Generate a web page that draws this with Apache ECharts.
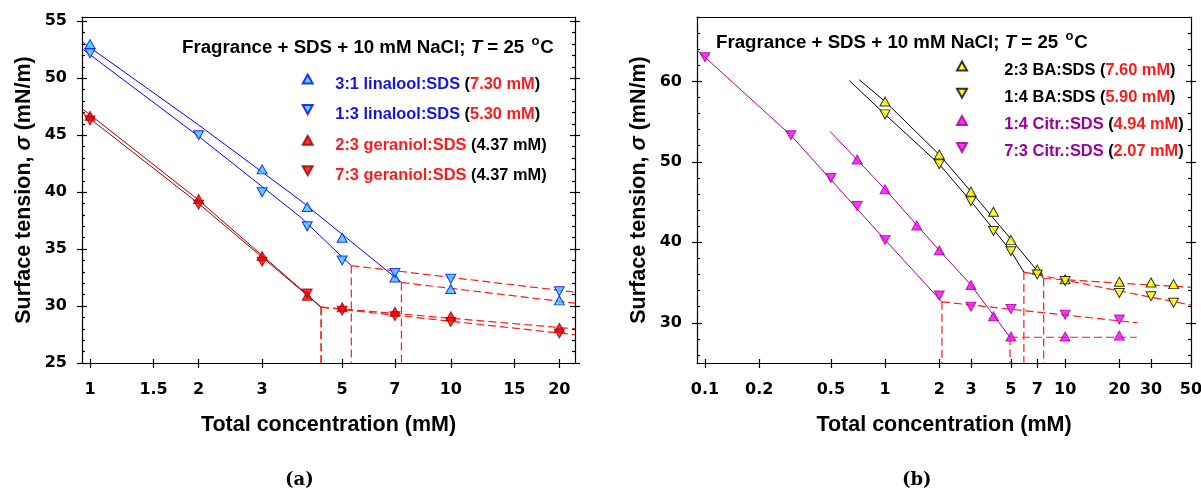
<!DOCTYPE html>
<html><head><meta charset="utf-8">
<script src="https://cdn.jsdelivr.net/npm/echarts@6/dist/echarts.min.js"></script>
<style>html,body{margin:0;padding:0;background:#fff}#c{width:1201px;height:490px}</style>
</head><body><div id="c"></div>
<script>
// ---------------- data: panel (a) ----------------
const xTicksA = [1, 1.5, 2, 3, 5, 7, 10, 15, 20];
const yTicksA = [25, 30, 35, 40, 45, 50, 55];
const xRangeA = [0.95, 22.1];
const yRangeA = [25, 55.38];
const namesA = ['3:1 linalool:SDS', '1:3 linalool:SDS', '2:3 geraniol:SDS', '7:3 geraniol:SDS'];
const cmcA = [7.30, 5.30, 4.37, 4.37];
const cmcSigmaA = [32.07, 33.55, 29.9, 29.9];
const lin31 = [[1, 53.0], [3, 42.0], [4, 38.7], [5, 36.0], [7, 32.5], [10, 31.5], [20, 30.5]];
const lin13 = [[1, 52.2], [2, 45.0], [3, 40.0], [4, 37.0], [5, 34.0], [7, 32.9], [10, 32.4], [20, 31.3]];
const ger23 = [[1, 46.7], [2, 39.4], [3, 34.4], [4, 30.9], [5, 29.9], [7, 29.5], [10, 29.1], [20, 28.1]];
const ger73 = [[1, 46.3], [2, 38.9], [3, 33.9], [4, 31.1], [5, 29.6], [7, 29.1], [10, 28.6], [20, 27.6]];
const fitLin31 = [[0.95, 53.2], [2, 45.9], [3.82, 39.3], [7.3, 32.07]];
const fitLin13 = [[0.95, 52.6], [2, 44.9], [3.82, 37.85], [5.3, 33.55]];
const fitGer23 = [[0.95, 47.35], [2, 39.3], [4, 31.0], [4.37, 29.9]];
const fitGer73 = [[0.95, 47.0], [2, 39.0], [4, 30.95], [4.37, 29.9]];
const postLin31 = [[7.3, 32.07], [22.1, 30.26]];
const postLin13 = [[5.3, 33.55], [22.1, 31.22]];
const postGer23 = [[4.37, 29.9], [22.1, 28.0]];
const postGer73 = [[4.37, 29.9], [22.1, 27.48]];

// ---------------- data: panel (b) ----------------
const xTicksB = [0.1, 0.2, 0.5, 1, 2, 3, 5, 7, 10, 20, 30, 50];
const yTicksB = [30, 40, 50, 60];
const xRangeB = [0.0903, 50];
const yRangeB = [25, 68];
const namesB = ['2:3 BA:SDS', '1:4 BA:SDS', '1:4 Citr.:SDS', '7:3 Citr.:SDS'];
const cmcB = [7.60, 5.90, 4.94, 2.07];
const cmcSigmaB = [35.5, 36.3, 28.2, 32.6];
const ba23 = [[1, 57.5], [2, 50.9], [3, 46.3], [4, 43.8], [5, 40.3], [7, 36.6], [10, 35.4], [20, 35.1], [30, 35.0], [40, 34.8]];
const ba14 = [[1, 55.9], [2, 49.7], [3, 45.1], [4, 41.4], [5, 38.9], [7, 36.0], [10, 35.2], [20, 33.7], [30, 33.3], [40, 32.5]];
const ci14 = [[0.7, 50.3], [1, 46.6], [1.5, 42.1], [2, 39.0], [3, 34.7], [4, 30.8], [5, 28.3], [10, 28.3], [20, 28.4]];
const ci73 = [[0.1, 63.0], [0.3, 53.3], [0.5, 48.0], [0.7, 44.5], [1, 40.3], [2, 33.4], [3, 32.0], [5, 31.7], [10, 31.0], [20, 30.4]];
const fitBa23 = [[0.719, 60.2], [1, 57.5], [2, 50.9], [3, 46.3], [5, 40.4], [7.6, 35.5]];
const fitBa14 = [[0.633, 60.1], [1, 55.9], [2, 49.7], [3, 45.1], [5, 38.9], [5.9, 36.3]];
const fitCi14 = [[0.494, 53.8], [1, 46.6], [2, 39.0], [3, 34.7], [4.94, 28.2]];
const fitCi73 = [[0.0903, 63.9], [0.3, 53.3], [1, 40.3], [2.07, 32.6]];
const postBa23 = [[7.6, 35.5], [50, 34.4]];
const postBa14 = [[5.9, 36.3], [50, 32.2]];
const postCi14 = [[4.94, 28.2], [25, 28.2]];
const postCi73 = [[2.07, 32.6], [25.2, 30.0]];

// ---------------- styling / building ----------------
const FONT = "'Liberation Sans', Arial, sans-serif";
const TFONT = "'DejaVu Sans', sans-serif";
const UP = 'path://M5,0L10,9L0,9Z';
const DOWN = 'path://M0,0L10,0L5,9Z';
const AX = {color: '#000', width: 1.2};
const RED = '#FF1A1A';
const lg = v => Math.log10(v);
const toLog = arr => arr.map(p => [lg(p[0]), p[1]]);
const minorList = (range, step, majors) => {
  const out = [];
  for (let v = Math.ceil(range[0] / step) * step; v <= range[1] + 1e-9; v += step) {
    if (!majors.includes(v)) out.push(v);
  }
  return out;
};
const fmtLog = v => String(+Math.pow(10, v).toPrecision(6));

const nameStyle = {fontSize: 21.5, fontWeight: 'bold', fontFamily: FONT, color: '#000',
  rich: {i: {fontSize: 21.5, fontWeight: 'bold', fontStyle: 'italic', fontFamily: FONT, color: '#000'}}};
const tickLabel = {fontSize: 16, fontWeight: 'bold', fontFamily: TFONT, color: '#000'};

function xAxesFor(gi, range, ticks) {
  const lv = ticks.map(lg);
  const base = {type: 'value', gridIndex: gi, min: lg(range[0]), max: lg(range[1]), splitLine: {show: false},
    axisLine: {show: false, onZero: false}, axisTick: {show: false}, axisLabel: {show: false}};
  return [
    Object.assign({}, base, {position: 'bottom',
      axisLine: {show: true, onZero: false, lineStyle: AX},
      axisTick: {show: true, inside: false, length: 5, customValues: lv, lineStyle: AX},
      axisLabel: Object.assign({show: true, customValues: lv, formatter: fmtLog, margin: 19}, tickLabel),
      name: 'Total concentration (mM)', nameLocation: 'middle', nameGap: 51, nameTextStyle: nameStyle}),
    Object.assign({}, base, {position: 'bottom',
      axisTick: {show: true, inside: true, length: 4, customValues: lv, lineStyle: AX}}),
    Object.assign({}, base, {position: 'top', axisLine: {show: true, onZero: false, lineStyle: AX}})
  ];
}
function yAxesFor(gi, range, majors, minors, margin) {
  const base = {type: 'value', gridIndex: gi, min: range[0], max: range[1], splitLine: {show: false},
    axisLine: {show: false, onZero: false}, axisTick: {show: false}, axisLabel: {show: false}};
  const inner = (pos, vals, len) => Object.assign({}, base, {position: pos,
    axisTick: {show: true, inside: true, length: len, customValues: vals, lineStyle: AX}});
  return [
    Object.assign({}, base, {position: 'left',
      axisLine: {show: true, onZero: false, lineStyle: AX},
      axisTick: {show: true, inside: false, length: 5, customValues: majors, lineStyle: AX},
      axisLabel: Object.assign({show: true, customValues: majors, margin: margin}, tickLabel),
      name: 'Surface tension, {i|σ} (mN/m)', nameLocation: 'middle', nameGap: 47, nameRotate: 90,
      nameTextStyle: nameStyle}),
    inner('left', majors, 5),
    inner('left', minors, 3),
    Object.assign({}, base, {position: 'right',
      axisLine: {show: true, onZero: false, lineStyle: AX},
      axisTick: {show: true, inside: false, length: 5, customValues: majors, lineStyle: AX}}),
    inner('right', majors, 5),
    inner('right', minors, 3)
  ];
}
function scatter(name, data, symbol, fill, border, xi, yi) {
  return {type: 'scatter', name: name, data: toLog(data), symbol: symbol, symbolSize: [10, 9],
    xAxisIndex: xi, yAxisIndex: yi, z: 5, silent: true,
    itemStyle: {color: fill, borderColor: border, borderWidth: 1}};
}
function curve(data, color, dashed, xi, yi) {
  return {type: 'line', data: toLog(data), symbol: 'none', showSymbol: false, xAxisIndex: xi, yAxisIndex: yi,
    z: 2, silent: true, smooth: false,
    lineStyle: {color: color, width: dashed ? 1.2 : 1, type: dashed ? [8, 4] : 'solid'}};
}
function verticals(cmcs, sigmas, yMin, xi, yi) {
  return cmcs.map((c, i) => curve([[c, sigmas[i]], [c, yMin]], RED, true, xi, yi));
}
function legendFor(names, cmcs, nameCls, valCls, icons, left, top, gap, fs, lh, padTop, padLeft) {
  const st = c => ({color: c, fontSize: fs, fontWeight: 'bold', fontFamily: FONT, lineHeight: lh});
  return {
    orient: 'vertical', left: left, top: top, padding: 0, itemGap: gap, itemWidth: 10, itemHeight: 9,
    selectedMode: false,
    data: names.map((n, i) => ({name: n, icon: icons[i]})),
    formatter: n => {
      const i = names.indexOf(n);
      return '{' + nameCls[i] + '|' + n + '}{k| (}{' + valCls[i] + '|' + cmcs[i].toFixed(2) + ' mM}{k|)}';
    },
    textStyle: {padding: [padTop, 0, 0, padLeft], fontSize: fs, fontWeight: 'bold', fontFamily: FONT, lineHeight: lh,
      rich: {b: st('#1414E6'), r: st(RED), k: st('#000'), p: st('#990099')}}
  };
}
const titleStyle = {fontSize: 18.7, fontWeight: 'bold', fontFamily: FONT, color: '#000', lineHeight: 22,
  rich: {i: {fontSize: 18.7, fontWeight: 'bold', fontStyle: 'italic', fontFamily: FONT, color: '#000', lineHeight: 22},
         s: {fontSize: 13, fontWeight: 'bold', fontFamily: FONT, color: '#000', padding: [0, 1, 13, 2]}}};
const TITLE = 'Fragrance + SDS + 10 mM NaCl; {i|T} = 25 {s|o}C';
const panelLabel = {fontSize: 18, fontWeight: 'bold', fontFamily: "'DejaVu Serif', serif", color: '#000'};

const series = [
  curve(fitLin31, '#0000FF', false, 0, 0), curve(fitLin13, '#0000FF', false, 0, 0),
  curve(fitGer23, '#A00000', false, 0, 0), curve(fitGer73, '#A00000', false, 0, 0),
  curve(postLin31, RED, true, 0, 0), curve(postLin13, RED, true, 0, 0),
  curve(postGer23, RED, true, 0, 0), curve(postGer73, RED, true, 0, 0),
  ...verticals(cmcA, cmcSigmaA, yRangeA[0], 0, 0),
  scatter(namesA[0], lin31, UP, '#33CCFF', '#0000FF', 0, 0),
  scatter(namesA[1], lin13, DOWN, '#33CCFF', '#0000FF', 0, 0),
  scatter(namesA[2], ger23, UP, '#FF0000', '#990000', 0, 0),
  scatter(namesA[3], ger73, DOWN, '#FF0000', '#990000', 0, 0),

  curve(fitBa23, '#000000', false, 3, 6), curve(fitBa14, '#000000', false, 3, 6),
  curve(fitCi14, '#A000A0', false, 3, 6), curve(fitCi73, '#A000A0', false, 3, 6),
  curve(postBa23, RED, true, 3, 6), curve(postBa14, RED, true, 3, 6),
  curve(postCi14, RED, true, 3, 6), curve(postCi73, RED, true, 3, 6),
  ...verticals(cmcB, cmcSigmaB, yRangeB[0], 3, 6),
  scatter(namesB[0], ba23, UP, '#FFFF00', '#000000', 3, 6),
  scatter(namesB[1], ba14, DOWN, '#FFFF00', '#000000', 3, 6),
  scatter(namesB[2], ci14, UP, '#FF00FF', '#990099', 3, 6),
  scatter(namesB[3], ci73, DOWN, '#FF00FF', '#990099', 3, 6)
];

const option = {
  animation: false,
  backgroundColor: '#fff',
  grid: [
    {left: 82, top: 17, width: 493, height: 346, outerBoundsMode: 'none', containLabel: false},
    {left: 697, top: 17, width: 494, height: 346, outerBoundsMode: 'none', containLabel: false}
  ],
  xAxis: [...xAxesFor(0, xRangeA, xTicksA), ...xAxesFor(1, xRangeB, xTicksB)],
  yAxis: [...yAxesFor(0, yRangeA, yTicksA, minorList(yRangeA, 1, yTicksA), 15),
          ...yAxesFor(1, yRangeB, yTicksB, minorList(yRangeB, 2, yTicksB), 15)],
  title: [
    {left: 182, top: 37, padding: 0, text: TITLE, textStyle: titleStyle},
    {left: 716, top: 32, padding: 0, text: TITLE, textStyle: titleStyle},
    {left: 285, top: 471, padding: 0, text: '(a)', textStyle: panelLabel},
    {left: 902, top: 471, padding: 0, text: '(b)', textStyle: panelLabel}
  ],
  legend: [
    legendFor(namesA, cmcA, ['b', 'b', 'r', 'r'], ['r', 'r', 'k', 'k'], [UP, DOWN, UP, DOWN],
      301.7, 64, 0.6, 16.4, 20, 10, 17.6),
    legendFor(namesB, cmcB, ['k', 'k', 'p', 'p'], ['r', 'r', 'r', 'r'], [UP, DOWN, UP, DOWN],
      956, 53, 1.2, 16.4, 18, 8, 32.3)
  ],
  series: series
};
const chart = echarts.init(document.getElementById('c'), null, {renderer: 'canvas'});
chart.setOption(option);
</script></body></html>
